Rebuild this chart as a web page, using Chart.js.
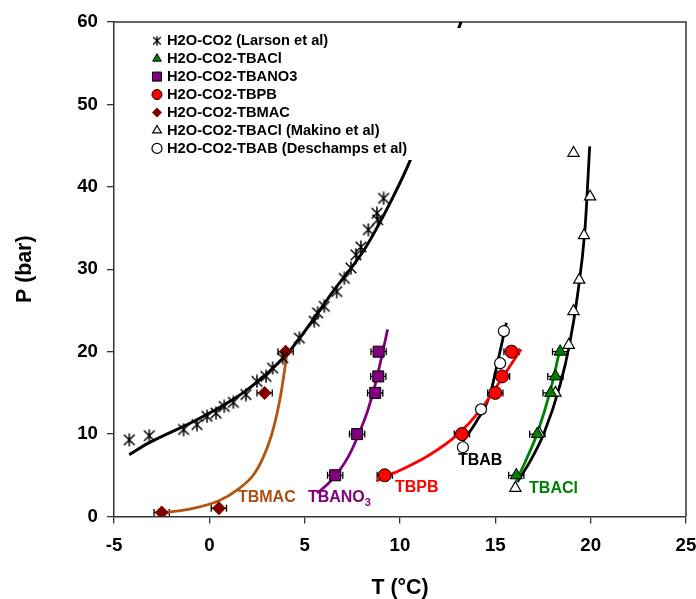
<!DOCTYPE html>
<html>
<head>
<meta charset="utf-8">
<script src="https://cdn.jsdelivr.net/npm/chart.js@4.4.0/dist/chart.umd.min.js"></script>
<style>
  html, body { margin: 0; padding: 0; background: #fff; }
  #wrap { width: 696px; height: 599px; }
</style>
</head>
<body>
<div id="wrap"><canvas id="chart" width="696" height="599"></canvas></div>
<script>
const FONT = "'Liberation Sans', Arial, Helvetica, sans-serif";

// Axis ticks
const xTicks = [-5, 0, 5, 10, 15, 20, 25];
const yTicks = [0, 10, 20, 30, 40, 50, 60];

// H2O-CO2 (Larson et al) measured points
const larsonT = [-4.2, -3.15, -1.35, -0.65, -0.12, 0.35, 0.78, 1.26, 1.92, 2.5, 2.97, 3.32, 3.85, 4.72, 5.5, 5.68, 6.03, 6.68, 7.08, 7.43, 7.69, 7.95, 8.34, 8.79, 8.83, 9.14];
const larsonP = [9.3, 9.8, 10.55, 11.15, 12.15, 12.55, 13.35, 13.85, 14.8, 16.4, 17.0, 18.0, 19.25, 21.65, 23.7, 24.7, 25.5, 27.3, 28.9, 30.15, 31.75, 32.7, 34.8, 36.8, 36.0, 38.6];

// semiclathrate measurements (this work), P in bar
const tbaclT = [16.1, 17.2, 17.9, 18.15, 18.4];
const tbaclP = [5, 10, 15, 17, 20];
const tbano3T = [6.6, 7.75, 8.7, 8.86, 8.88];
const tbano3P = [5, 10, 15, 17, 20];
const tbpbT = [9.2, 13.25, 15.0, 15.35, 15.85];
const tbpbP = [5, 10, 15, 17, 20];
const tbmacT = [-2.5, 0.5, 2.9, 4.0];
const tbmacP = [0.5, 1, 15, 20];
const tErr = 0.4;

// literature points
const makinoT = [16.05, 17.3, 18.15, 18.85, 19.1, 19.4, 19.65, 19.97, 19.1];
const makinoP = [3.45, 10.1, 15, 20.8, 24.9, 28.7, 34.1, 38.8, 44.1];
const deschT = [13.3, 14.25, 15.25, 15.45];
const deschP = [8.4, 13, 18.6, 22.5];

// fitted curves
const larsonFitT = [-4.2, -3.2, -0.6, 2.0, 4.1, 6.55, 8.13, 9.6, 10.55, 13.2];
const larsonFitP = [7.5, 8.9, 11.8, 15.4, 19.8, 27.5, 32.4, 38.6, 43.3, 60];
const tbmacFitT = [-2.5, -1.1, 0.5, 1.5, 2.3, 2.85, 3.25, 3.55, 3.8, 3.95, 4.07];
const tbmacFitP = [0.45, 0.85, 1.9, 3.3, 5.0, 7.3, 9.8, 12.5, 15.5, 17.8, 20.0];
const tbano3FitT = [5.65, 6.2, 6.7, 7.3, 7.8, 8.3, 8.7, 9.05, 9.35];
const tbano3FitP = [2.85, 3.9, 5.2, 7.3, 9.8, 12.8, 16.0, 19.5, 22.7];
const tbpbFitT = [8.75, 10, 11.5, 13, 14.25, 15.3, 16.35];
const tbpbFitP = [4.3, 5.6, 7.4, 9.9, 13, 16.6, 20.3];
const tbabFitT = [13.3, 14.0, 14.7, 15.1, 15.58];
const tbabFitP = [9.1, 11.5, 14.6, 18.5, 23.5];
const tbaclFitT = [16.1, 16.6, 17.2, 17.9, 18.4];
const tbaclFitP = [4.3, 6.8, 10.1, 15.4, 20.4];
const makinoFitT = [16.15, 16.8, 17.55, 18.4, 18.9, 19.3, 19.7, 19.95];
const makinoFitP = [4.2, 6.6, 10.1, 16.0, 21, 26.7, 34.8, 44.9];

const curveLabels = [
  { text: 'TBMAC', sub: '', t: 1.5, p: 2.25, color: '#a94f12' },
  { text: 'TBANO', sub: '3', t: 5.17, p: 2.25, color: '#800080' },
  { text: 'TBPB', sub: '', t: 9.74, p: 3.46, color: '#ff0000' },
  { text: 'TBAB', sub: '', t: 13.04, p: 6.74, color: '#000000' },
  { text: 'TBACl', sub: '', t: 16.77, p: 3.34, color: '#008000' }
];

function zip(ts, ps) {
  return ts.map((t, i) => ({ x: t, y: ps[i] }));
}

function makeAsterisk(size, lw) {
  const c = document.createElement('canvas');
  c.width = size;
  c.height = size;
  const g = c.getContext('2d');
  const m = size / 2;
  const a = size * 0.38;
  const v = size * 0.47;
  g.strokeStyle = '#000';
  g.lineWidth = lw;
  g.beginPath();
  g.moveTo(m - a, m - a); g.lineTo(m + a, m + a);
  g.moveTo(m + a, m - a); g.lineTo(m - a, m + a);
  g.moveTo(m, m - v); g.lineTo(m, m + v);
  g.stroke();
  return c;
}

const asterisk = makeAsterisk(14, 1.5);
const asteriskSmall = makeAsterisk(10, 1.3);

function fitLine(ts, ps, color, width) {
  return {
    type: 'line',
    data: zip(ts, ps),
    borderColor: color,
    borderWidth: width,
    pointRadius: 0,
    fill: false,
    showLine: true,
    cubicInterpolationMode: 'monotone',
    order: 1
  };
}

function markers(label, ts, ps, style, radius, fill, border, bw) {
  return {
    label,
    data: zip(ts, ps),
    pointStyle: style,
    pointRadius: radius,
    backgroundColor: fill,
    borderColor: border,
    borderWidth: bw,
    showLine: false,
    order: 0
  };
}

const markerSets = [
  markers('H2O-CO2 (Larson et al)', larsonT, larsonP, asterisk, 6, '#000', '#000', 0),
  markers('H2O-CO2-TBACl', tbaclT, tbaclP, 'triangle', 7, '#008000', '#000', 1),
  markers('H2O-CO2-TBANO3', tbano3T, tbano3P, 'rect', 7.8, '#800080', '#000', 1),
  markers('H2O-CO2-TBPB', tbpbT, tbpbP, 'circle', 6.5, '#ff0000', '#000', 1),
  markers('H2O-CO2-TBMAC', tbmacT, tbmacP, 'rectRot', 7, '#800000', '#800000', 0),
  markers('H2O-CO2-TBACl (Makino et al)', makinoT, makinoP, 'triangle', 6.5, '#fff', '#000', 1.2),
  markers('H2O-CO2-TBAB (Deschamps et al)', deschT, deschP, 'circle', 5.5, '#fff', '#000', 1.2)
];

const errorSets = [
  [tbaclT, tbaclP],
  [tbano3T, tbano3P],
  [tbpbT, tbpbP],
  [tbmacT, tbmacP]
];

const extras = {
  id: 'extras',
  beforeDatasetsDraw(chart) {
    const { ctx, chartArea: a, scales: { x, y } } = chart;
    ctx.save();
    ctx.strokeStyle = '#333';
    ctx.lineWidth = 1.5;
    ctx.beginPath();
    ctx.moveTo(a.left, a.top);
    ctx.lineTo(a.right, a.top);
    ctx.lineTo(a.right, a.bottom);
    ctx.stroke();

    // horizontal error bars on this work's points
    ctx.strokeStyle = '#000';
    ctx.lineWidth = 1.3;
    errorSets.forEach(([ts, ps]) => {
      ts.forEach((t, i) => {
        const x0 = x.getPixelForValue(t - tErr);
        const x1 = x.getPixelForValue(t + tErr);
        const yy = y.getPixelForValue(ps[i]);
        ctx.beginPath();
        ctx.moveTo(x0, yy); ctx.lineTo(x1, yy);
        ctx.moveTo(x0, yy - 3.5); ctx.lineTo(x0, yy + 3.5);
        ctx.moveTo(x1, yy - 3.5); ctx.lineTo(x1, yy + 3.5);
        ctx.stroke();
      });
    });
    ctx.restore();
  },
  afterDatasetsDraw(chart) {
    const { ctx, scales: { x, y } } = chart;
    ctx.save();

    // curve names
    curveLabels.forEach((lab) => {
      const px = x.getPixelForValue(lab.t);
      const py = y.getPixelForValue(lab.p);
      ctx.fillStyle = lab.color;
      ctx.textBaseline = 'middle';
      ctx.textAlign = 'left';
      ctx.font = 'bold 16px ' + FONT;
      ctx.fillText(lab.text, px, py);
      if (lab.sub) {
        const w = ctx.measureText(lab.text).width;
        ctx.font = 'bold 11px ' + FONT;
        ctx.fillText(lab.sub, px + w, py + 5);
      }
    });

    // legend box, white so the Larson curve passes behind it
    ctx.fillStyle = '#fff';
    ctx.fillRect(140, 28, 322, 132);
    ctx.font = 'bold 14.67px ' + FONT;
    ctx.textBaseline = 'middle';
    ctx.textAlign = 'left';
    markerSets.forEach((ds, i) => {
      const ly = 40.7 + i * 17.95;
      const style = ds.pointStyle === asterisk ? asteriskSmall : ds.pointStyle;
      ctx.fillStyle = ds.backgroundColor;
      ctx.strokeStyle = ds.borderColor;
      ctx.lineWidth = ds.borderWidth;
      Chart.helpers.drawPoint(ctx, {
        pointStyle: style,
        rotation: 0,
        radius: ds.pointStyle === 'rect' ? 6.4 : 5,
        borderWidth: ds.borderWidth
      }, 157, ly);
      ctx.fillStyle = '#000';
      ctx.fillText(ds.label, 167, ly + 0.5);
    });
    ctx.restore();
  }
};

const tickFont = { family: FONT, size: 18.67, weight: 'bold' };
const titleFont = { family: FONT, size: 21.33, weight: 'bold' };

new Chart(document.getElementById('chart'), {
  type: 'scatter',
  data: {
    datasets: [
      ...markerSets,
      fitLine(larsonFitT, larsonFitP, '#000', 3),
      fitLine(tbmacFitT, tbmacFitP, '#b5540f', 2.8),
      fitLine(tbano3FitT, tbano3FitP, '#800080', 2.8),
      fitLine(tbpbFitT, tbpbFitP, '#ff0000', 2.8),
      fitLine(tbabFitT, tbabFitP, '#000', 2.8),
      fitLine(tbaclFitT, tbaclFitP, '#008000', 2.8),
      fitLine(makinoFitT, makinoFitP, '#000', 2.8)
    ]
  },
  options: {
    responsive: false,
    animation: false,
    layout: { padding: { top: 22, right: 10, left: 0, bottom: 0 } },
    plugins: {
      legend: { display: false },
      tooltip: { enabled: false }
    },
    scales: {
      x: {
        type: 'linear',
        min: xTicks[0],
        max: xTicks[xTicks.length - 1],
        afterBuildTicks(scale) {
          scale.ticks = xTicks.map((v) => ({ value: v }));
        },
        ticks: { color: '#000', font: tickFont, padding: 11, maxRotation: 0, autoSkip: false },
        grid: { drawOnChartArea: false, drawTicks: true, tickLength: 7, color: '#333', lineWidth: 1.3 },
        border: { display: true, color: '#333', width: 1.5 },
        title: { display: true, text: 'T (°C)', color: '#000', font: titleFont, padding: { top: 0, bottom: -2 } },
        afterFit(scale) {
          scale.height = 82.5;
          scale.paddingLeft = 0;
          scale.paddingRight = 0;
        }
      },
      y: {
        type: 'linear',
        min: yTicks[0],
        max: yTicks[yTicks.length - 1],
        afterBuildTicks(scale) {
          scale.ticks = yTicks.map((v) => ({ value: v }));
        },
        ticks: { color: '#000', font: tickFont, padding: 9, autoSkip: false },
        grid: { drawOnChartArea: false, drawTicks: true, tickLength: 7, color: '#333', lineWidth: 1.3 },
        border: { display: true, color: '#333', width: 1.5 },
        title: { display: true, text: 'P (bar)', color: '#000', font: titleFont, padding: { top: 12, bottom: 0 } },
        afterFit(scale) {
          scale.width = 114;
          scale.paddingTop = 0;
          scale.paddingBottom = 0;
        }
      }
    }
  },
  plugins: [extras]
});
</script>
</body>
</html>
